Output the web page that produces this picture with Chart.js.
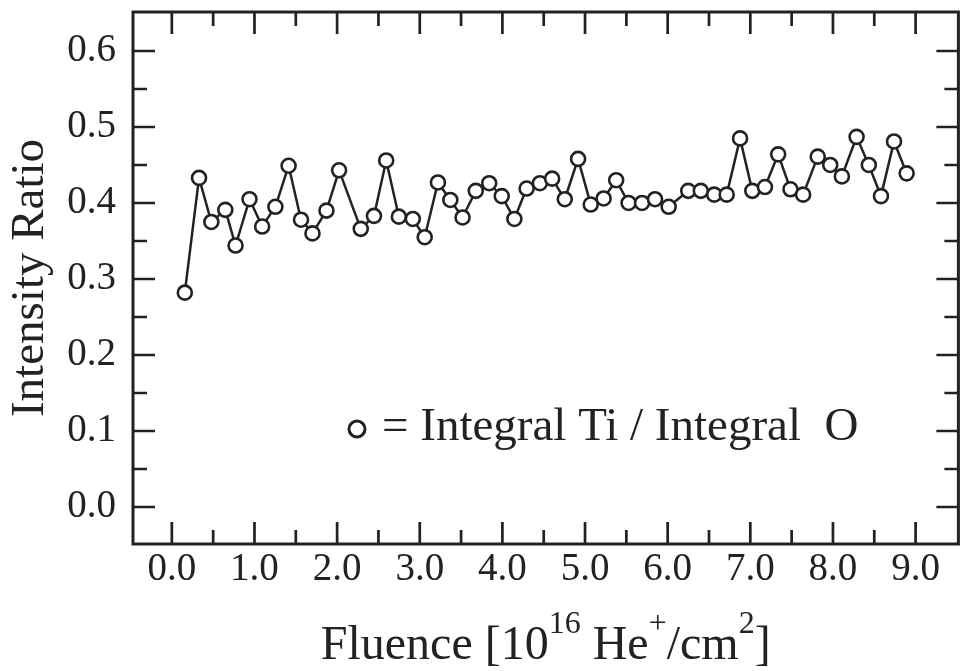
<!DOCTYPE html>
<html>
<head>
<meta charset="utf-8">
<script src="https://cdn.jsdelivr.net/npm/chart.js@4"></script>
<style>
  html, body { margin: 0; padding: 0; background: #fff; }
  #wrap { width: 968px; height: 671px; }
</style>
</head>
<body>
<div id="wrap"><canvas id="c" width="968" height="671"></canvas></div>
<script>
// ---- data ----
const fluence = [0.157,0.329,0.478,0.647,0.771,0.940,1.093,1.253,1.413,1.563,1.702,1.871,2.024,2.286,2.446,2.594,2.747,2.916,3.060,3.220,3.370,3.518,3.678,3.840,3.992,4.145,4.293,4.454,4.602,4.755,4.916,5.069,5.225,5.377,5.527,5.690,5.847,6.012,6.249,6.401,6.563,6.714,6.876,7.024,7.177,7.337,7.486,7.639,7.816,7.967,8.108,8.286,8.434,8.581,8.739,8.892];
const ratio = [0.282,0.433,0.375,0.391,0.344,0.405,0.369,0.395,0.449,0.378,0.360,0.390,0.443,0.366,0.383,0.456,0.382,0.379,0.355,0.427,0.404,0.381,0.416,0.426,0.409,0.379,0.419,0.426,0.432,0.405,0.458,0.398,0.406,0.430,0.400,0.400,0.405,0.395,0.416,0.416,0.411,0.411,0.485,0.416,0.421,0.464,0.418,0.411,0.461,0.450,0.435,0.487,0.450,0.409,0.481,0.439];
const xMajorTicks = [0,1,2,3,4,5,6,7,8,9];
const xMinorTicks = [0.5,1.5,2.5,3.5,4.5,5.5,6.5,7.5,8.5];
const yMajorTicks = [0,0.1,0.2,0.3,0.4,0.5,0.6];
const yMinorTicks = [0.05,0.15,0.25,0.35,0.45,0.55];
const yTitle = "Intensity Ratio";
const xTitleParts = [["Fluence [10", false], ["16", true], [" He", false], ["+", true], ["/cm", false], ["2", true], ["]", false]];
const legendText = "= Integral Ti / Integral  O";

const INK = '#222';
const SERIF = '"Liberation Serif", "Times New Roman", serif';

const bgPlugin = {
  id: 'bg',
  beforeDraw(chart) {
    const ctx = chart.ctx;
    ctx.save();
    ctx.fillStyle = '#fff';
    ctx.fillRect(0, 0, chart.width, chart.height);
    ctx.restore();
  }
};

const framePlugin = {
  id: 'frame',
  beforeDatasetsDraw(chart) {
    const { ctx, chartArea: a, scales } = chart;
    const xs = scales.x, ys = scales.y;
    ctx.save();
    ctx.strokeStyle = INK;
    ctx.lineWidth = 3;
    ctx.strokeRect(a.left, a.top, a.right - a.left, a.bottom - a.top);
    ctx.lineWidth = 2.7;
    ctx.beginPath();
    const tickX = (v, len) => {
      const p = xs.getPixelForValue(v);
      ctx.moveTo(p, a.bottom); ctx.lineTo(p, a.bottom - len);
      ctx.moveTo(p, a.top); ctx.lineTo(p, a.top + len);
    };
    const tickY = (v, len) => {
      const p = ys.getPixelForValue(v);
      ctx.moveTo(a.left, p); ctx.lineTo(a.left + len, p);
      ctx.moveTo(a.right, p); ctx.lineTo(a.right - len, p);
    };
    xMajorTicks.forEach(v => tickX(v, 22));
    xMinorTicks.forEach(v => tickX(v, 14));
    yMajorTicks.forEach(v => tickY(v, 22));
    yMinorTicks.forEach(v => tickY(v, 14));
    ctx.stroke();
    ctx.restore();
  },
  afterDraw(chart) {
    const { ctx, chartArea: a } = chart;
    ctx.save();
    ctx.fillStyle = INK;
    ctx.strokeStyle = INK;
    // x-axis title with superscripts
    const mainF = '48px ' + SERIF, supF = '32px ' + SERIF;
    let total = 0;
    xTitleParts.forEach(([t, sup]) => { ctx.font = sup ? supF : mainF; total += ctx.measureText(t).width; });
    let x = (a.left + a.right) / 2 - total / 2;
    const base = 659;
    ctx.textBaseline = 'alphabetic';
    ctx.textAlign = 'left';
    xTitleParts.forEach(([t, sup]) => {
      ctx.font = sup ? supF : mainF;
      ctx.fillText(t, x, sup ? base - 26 : base);
      x += ctx.measureText(t).width;
    });
    // legend inside plot
    const lx = a.left + 224, ly = 429;
    ctx.lineWidth = 3;
    ctx.beginPath();
    ctx.arc(lx, ly, 8, 0, Math.PI * 2);
    ctx.stroke();
    ctx.font = '47px ' + SERIF;
    ctx.fillText(legendText, a.left + 249, 440);
    ctx.restore();
  }
};

const zeroPad = s => { s.paddingTop = 0; s.paddingBottom = 0; s.paddingLeft = 0; s.paddingRight = 0; };

new Chart(document.getElementById('c'), {
  type: 'scatter',
  data: {
    datasets: [{
      data: fluence.map((f, i) => ({ x: f, y: ratio[i] })),
      showLine: true,
      borderColor: INK,
      borderWidth: 2.5,
      pointRadius: 7,
      pointHoverRadius: 7,
      pointBorderWidth: 2.6,
      pointBackgroundColor: '#fff',
      pointBorderColor: INK,
      tension: 0
    }]
  },
  options: {
    responsive: false,
    devicePixelRatio: 1,
    animation: false,
    events: [],
    layout: { padding: { left: 0, top: 12, right: 6, bottom: 0 } },
    plugins: { legend: { display: false }, tooltip: { enabled: false } },
    scales: {
      x: {
        type: 'linear',
        min: -0.47, max: 9.518,
        grid: { display: false, drawTicks: false },
        border: { display: false },
        afterBuildTicks: s => { s.ticks = xMajorTicks.map(v => ({ value: v })); },
        afterFit: s => { s.height = 127; zeroPad(s); },
        ticks: {
          autoSkip: false, maxRotation: 0, padding: 2,
          color: INK, font: { family: SERIF, size: 39 },
          callback: v => Number(v).toFixed(1)
        }
      },
      y: {
        type: 'linear',
        min: -0.0487, max: 0.6513,
        grid: { display: false, drawTicks: false },
        border: { display: false },
        afterBuildTicks: s => { s.ticks = yMajorTicks.map(v => ({ value: v })); },
        afterFit: s => { s.width = 133; zeroPad(s); },
        title: { display: true, text: yTitle, color: INK, font: { family: SERIF, size: 47 }, padding: { top: 2, bottom: 0 } },
        ticks: {
          autoSkip: false, padding: 17,
          color: INK, font: { family: SERIF, size: 39 },
          callback: v => Number(v).toFixed(1)
        }
      }
    }
  },
  plugins: [bgPlugin, framePlugin]
});
</script>
</body>
</html>
